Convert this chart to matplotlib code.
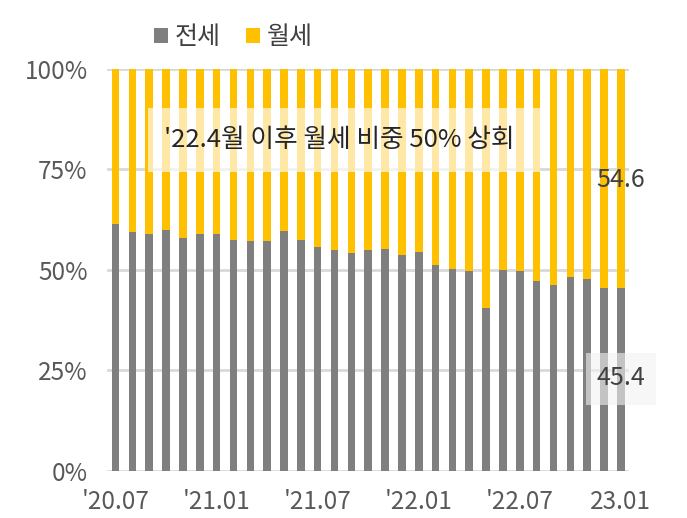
import matplotlib
matplotlib.use("Agg")
import matplotlib.pyplot as plt
from matplotlib.patches import Rectangle
import numpy as np

plt.rcParams['font.family'] = ['Noto Sans CJK KR', 'DejaVu Sans']
plt.rcParams['font.weight'] = 'light'

# monthly share of 전세 (jeonse), '20.07 ~ '23.01
months = ["'20.07", "'20.08", "'20.09", "'20.10", "'20.11", "'20.12",
          "'21.01", "'21.02", "'21.03", "'21.04", "'21.05", "'21.06",
          "'21.07", "'21.08", "'21.09", "'21.10", "'21.11", "'21.12",
          "'22.01", "'22.02", "'22.03", "'22.04", "'22.05", "'22.06",
          "'22.07", "'22.08", "'22.09", "'22.10", "'22.11", "'22.12", "23.01"]
jeonse = [61.4, 59.5, 59.0, 59.9, 57.9, 59.0, 59.0, 57.5, 57.2, 57.2,
          59.6, 57.5, 55.8, 55.0, 54.1, 55.0, 55.1, 53.7, 54.5, 51.3,
          50.2, 49.6, 40.5, 49.9, 49.6, 47.2, 46.3, 48.2, 47.8, 45.4, 45.4]
wolse = [round(100 - v, 1) for v in jeonse]
tick_idx = [0, 6, 12, 18, 24, 30]

gray = '#7f7f7f'
yellow = '#ffc000'

fig = plt.figure(figsize=(6.87, 5.18), dpi=100)
ax = fig.add_axes([0.156, 0.091, 0.76, 0.776])

x = np.arange(len(months))
ax.bar(x, jeonse, width=0.45, color=gray, label='전세', zorder=2)
ax.bar(x, wolse, width=0.45, bottom=jeonse, color=yellow, label='월세', zorder=2)

ax.set_xlim(-0.5, len(months) - 0.5)
ax.set_ylim(0, 100)
ax.set_yticks([0, 25, 50, 75, 100])
ax.set_yticklabels(['0%', '25%', '50%', '75%', '100%'])
ax.set_xticks(x[tick_idx])
ax.set_xticklabels([months[i] for i in tick_idx])
ax.tick_params(axis='both', length=0, labelsize=17.5, colors='#595959')
ax.tick_params(axis='x', pad=13)
ax.tick_params(axis='y', pad=14)
ax.grid(axis='y', color='#d9d9d9', linewidth=2, zorder=0)
for s in ax.spines.values():
    s.set_visible(False)

# annotation box
ax.add_patch(Rectangle((1.9, 74.4), 23.3, 15.9, facecolor='white', alpha=0.65,
                       edgecolor='none', zorder=3))
ax.text(13.3, 82.3, "'22.4월 이후 월세 비중 50% 상회", ha='center', va='center',
        fontsize=18.5, color='#262626', zorder=4)

# last value labels
ax.add_patch(Rectangle((27.9, 16.4), 4.2, 13.0, facecolor='#f2f2f2', alpha=0.6,
                       edgecolor='none', zorder=3, clip_on=False))
ax.text(30.0, 23.1, f"{jeonse[-1]:.1f}", ha='center', va='center',
        fontsize=18, color='#404040', zorder=4, clip_on=False)
ax.text(30.0, 72.4, f"{wolse[-1]:.1f}", ha='center', va='center',
        fontsize=18, color='#404040', zorder=4, clip_on=False)

fig.legend(loc='center', bbox_to_anchor=(0.34, 0.928), ncol=2, frameon=False,
           fontsize=18, handlelength=0.55, handleheight=0.55, handletextpad=0.3,
           columnspacing=1.0, labelcolor='#404040')

fig.savefig('out.png', dpi=100)
